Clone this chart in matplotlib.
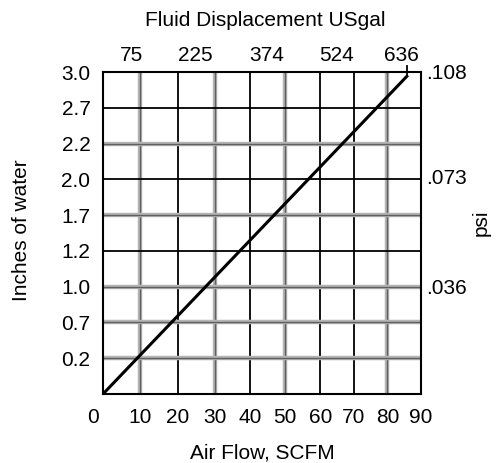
import matplotlib.pyplot as plt
import matplotlib.transforms as mtransforms

plt.rcParams['font.family'] = ['Liberation Sans', 'DejaVu Sans']

# data
air_flow = [0, 86]          # SCFM
inches_water = [0, 2.96]    # inches of water

x_labels = ['0', '10', '20', '30', '40', '50', '60', '70', '80', '90']
y_pos = [1/3, 2/3, 1, 4/3, 5/3, 2, 7/3, 8/3, 3]
y_labels = ['0.2', '0.7', '1.0', '1.2', '1.7', '2.0', '2.2', '2.7', '3.0']
psi_pos = [1.0, 2.03, 3.0]
psi_labels = ['.036', '.073', '.108']
gal_pos = [8.2, 26.2, 46.3, 66.0, 84.6]
gal_labels = ['75', '225', '374', '524', '636']

# the printed grid is not quite even; positions of the vertical rules
grid_x = [0, 10.5, 21.2, 31.7, 41.6, 51.5, 61.5, 70.9, 80.5, 90]
v_grey = [1, 3, 5, 8]      # index into grid_x
v_black = [2, 4, 6, 7]
h_grey = [1/3, 2/3, 1, 5/3, 7/3]
h_black = [4/3, 2, 8/3]

FS = 15

fig = plt.figure(figsize=(5.02, 4.63), dpi=100)
ax = fig.add_axes([103 / 502, 1 - 394 / 463, 318 / 502, 322 / 463])
ax.set_xlim(0, 90)
ax.set_ylim(0, 3)

for i in v_grey:
    ax.axvline(grid_x[i], color='#b5b5b5', lw=3.2, zorder=1)
    ax.axvline(grid_x[i], color='#606060', lw=1.0, zorder=1)
for i in v_black:
    ax.axvline(grid_x[i], color='black', lw=1.3, zorder=1)
for h in h_grey:
    ax.axhline(h, color='#b5b5b5', lw=3.2, zorder=1)
    ax.axhline(h, color='#606060', lw=1.0, zorder=1)
for h in h_black:
    ax.axhline(h, color='black', lw=1.3, zorder=1)

ax.plot(air_flow, inches_water, color='black', lw=2.2, zorder=3)
# little pointer up to the top scale
ax.plot([air_flow[-1], air_flow[-1]], [inches_water[-1], 3.06], color='black',
        lw=1.3, clip_on=False, zorder=3)

for s in ax.spines.values():
    s.set_linewidth(1.5)

ax.set_xticks(grid_x)
ax.set_xticklabels(x_labels)
ax.set_yticks(y_pos)
ax.set_yticklabels(y_labels)
ax.tick_params(length=0, labelsize=FS)
ax.tick_params(axis='x', pad=10)
ax.tick_params(axis='y', pad=9)

# the "0" sits a little left of the corner
lab0 = ax.get_xticklabels()[0]
lab0.set_transform(lab0.get_transform() +
                   mtransforms.ScaledTranslation(-10 / 100, 0, fig.dpi_scale_trans))

ax_r = ax.twinx()
ax_r.set_ylim(0, 3)
ax_r.set_yticks(psi_pos)
ax_r.set_yticklabels(psi_labels)
ax_r.tick_params(length=0, labelsize=FS, pad=4)

ax_t = ax.twiny()
ax_t.set_xlim(0, 90)
ax_t.set_xticks(gal_pos)
ax_t.set_xticklabels(gal_labels)
ax_t.tick_params(length=0, labelsize=FS, pad=5)

for a in (ax_r, ax_t):
    for s in a.spines.values():
        s.set_visible(False)

# axis titles, placed in figure pixels
W, H = 502, 463
fig.text(262 / W, 1 - 453 / H, 'Air Flow, SCFM', fontsize=FS, ha='center', va='center')
fig.text(265 / W, 1 - 20 / H, 'Fluid Displacement USgal', fontsize=FS, ha='center', va='center')
fig.text(22 / W, 1 - 230 / H, 'Inches of water', fontsize=FS, ha='center', va='center', rotation=90)
fig.text(481 / W, 1 - 223 / H, 'psi', fontsize=FS, ha='center', va='center', rotation=90)

fig.savefig('out.png', dpi=100)
